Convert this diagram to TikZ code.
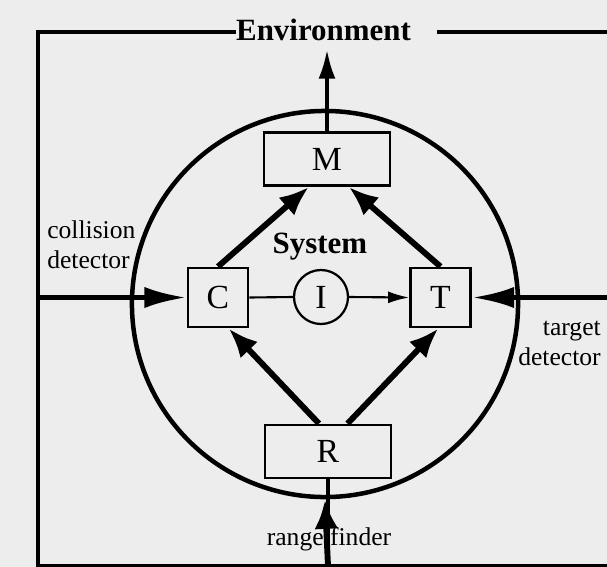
\documentclass[tikz,border=0pt]{standalone}
\usepackage{fontspec}
\setmainfont{Liberation Serif}
\usetikzlibrary{arrows.meta, positioning}

\begin{document}
\begin{tikzpicture}[
    x=0.025cm, y=-0.025cm,
    envframe/.style = {line width=3.5pt},
    sysline/.style = {line width=3.2pt},
    unit/.style = {
        rectangle,
        draw,
        line width=1.9pt,
        inner sep=0pt,
        font=\fontsize{24pt}{28pt}\selectfont
    },
    wide/.style = {unit, minimum width=3.15cm, minimum height=1.33cm},
    square/.style = {unit, minimum width=1.5cm, minimum height=1.48cm},
    ring/.style = {unit, circle, minimum size=1.35cm, line width=1.6pt},
    title/.style = {inner sep=0pt, font=\bfseries\fontsize{22pt}{26pt}\selectfont},
    sense/.style = {inner sep=0pt, font=\fontsize{18.2pt}{21.5pt}\selectfont},
    flow/.style = {-{Latex[length=21pt, width=17pt]}, line width=4.2pt},
    input/.style = {-{Latex[length=30pt, width=15pt]}, line width=3.8pt},
    exit/.style = {-{Latex[length=21pt, width=12pt]}, line width=3pt},
    link/.style = {line width=1.5pt}
]

\useasboundingbox (0,0) rectangle (607,567);
\fill[black!7] (0,0) rectangle (607,567);

%% Environment frame
\node[title] (env) at (323.5,30) {Environment};
\draw[envframe] (env.west |- 0,32) -- (38,32) -- (38,566) -- (607,566);
\draw[envframe] (437,32) -- (607,32);

%% System
\node[circle, draw, sysline, minimum size=9.65cm, inner sep=0pt] (sys) at (325,304) {};
\node[title, anchor=base] (systxt) at (320,253) {System};

%% Units
\node[wide] (M) at (327,159) {M};
\node[wide] (R) at (328,451.5) {R};
\node[square] (C) at (218,297.5) {C};
\node[square] (T) at (440.5,297.5) {T};
\node[ring] (I) at (321,297) {I};

%% Sensors
\node[sense, align=left, anchor=north west] (coll) at (47,220) {collision\\detector};
\node[sense, align=right, anchor=north east] (targ) at (601,321) {target\\detector};
\node[sense, anchor=base] (range) at (329,545) {range finder};

\coordinate (cd) at (38,297.5);
\coordinate (td) at (607,297.5);
\coordinate (rf) at (328,566);
\coordinate (out) at (327,49);

%% Arrows
\draw[input] (cd) -- (C.west);
\draw[input] (td) -- (T.east);
\draw[line width=3.4pt] (rf) -- (R.south);
\draw[flow] (rf) -- (sys.south);
\draw[exit] (M.north) -- (out);

\draw[flow] (C.north) -- (M.237);
\draw[flow] (T.north) -- (M.308);
\draw[flow] (R.108) -- (C.289);
\draw[flow] (R.55) -- (T.266);

\draw[link] (C.east) -- (I.west);
\draw[link, -{Latex[length=15pt, width=8.5pt]}] (I.east) -- (T.west);

\end{tikzpicture}
\end{document}
